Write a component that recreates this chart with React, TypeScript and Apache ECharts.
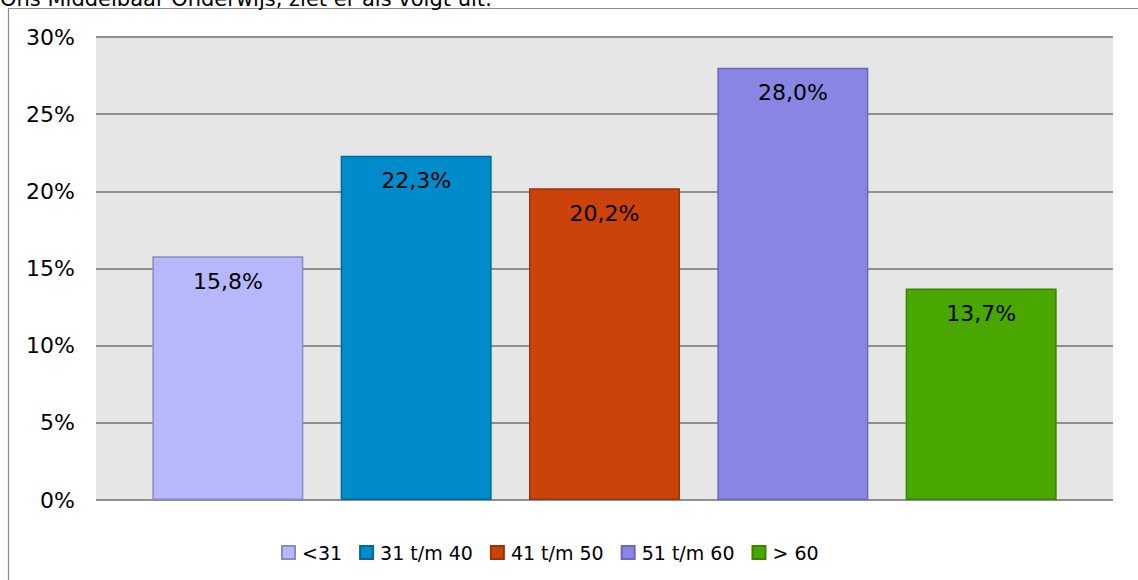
import React, { useEffect, useRef } from "react";
import * as echarts from "echarts";

const categories = ["<31", "31 t/m 40", "41 t/m 50", "51 t/m 60", "> 60"];
const values = [15.8, 22.3, 20.2, 28.0, 13.7];
const fillColors = ["#b7b7fc", "#008bcb", "#cb420a", "#8886e2", "#4aa600"];
const borderColors = ["#8a8ac4", "#00699a", "#9c3408", "#6b69b5", "#3b8400"];
const yTicks = [0, 5, 10, 15, 20, 25, 30];
const titleText = "Ons Middelbaar Onderwijs, ziet er als volgt uit:";

const FONT = "DejaVu Sans, Verdana, sans-serif";

export default function App() {
  const ref = useRef<HTMLDivElement>(null);
  useEffect(() => {
    if (!ref.current) return;
    const chart = echarts.init(ref.current, null, { renderer: "svg" });
    const fmt = (v: number) => v.toFixed(1).replace(".", ",") + "%";
    chart.setOption({
      animation: false,
      backgroundColor: "#ffffff",
      textStyle: { fontFamily: FONT },
      graphic: [
        {
          type: "rect",
          shape: { x: 8.5, y: 8.5, width: 1300, height: 800 },
          style: { fill: "none", stroke: "#8c8c8c", lineWidth: 1.2 },
          silent: true,
          z: -1,
        },
        {
          type: "text",
          left: 0,
          top: -12,
          style: {
            text: titleText,
            fontFamily: FONT,
            fontSize: 21,
            fill: "#000000",
          },
        },
      ],
      grid: {
        left: 96,
        right: 25,
        top: 37,
        bottom: 80,
        show: true,
        backgroundColor: "#e6e6e6",
        borderWidth: 0,
      },
      legend: {
        bottom: 13,
        left: 276,
        itemWidth: 13,
        itemHeight: 13,
        itemGap: 17,
        icon: "rect",
        textStyle: {
          fontFamily: FONT,
          fontSize: 19,
          color: "#000000",
          padding: [0, 0, 0, 2],
        },
        data: categories,
      },
      xAxis: {
        type: "value",
        min: 0.3,
        max: 5.7,
        show: false,
        splitLine: { show: false },
      },
      yAxis: {
        type: "value",
        min: yTicks[0],
        max: yTicks[yTicks.length - 1],
        interval: 5,
        axisLine: { show: false },
        axisTick: { show: false },
        axisLabel: {
          formatter: "{value}%",
          margin: 21,
          color: "#000000",
          fontFamily: FONT,
          fontSize: 22,
        },
        splitLine: { show: true, lineStyle: { color: "#8f8f8f", width: 2 } },
      },
      series: categories.map((name, i) => ({
        type: "bar",
        name,
        data: [[i + 1, values[i]]],
        barWidth: 151,
        barGap: "-100%",
        itemStyle: {
          color: fillColors[i],
          borderColor: borderColors[i],
          borderWidth: 1.5,
        },
        label: {
          show: true,
          position: "insideTop",
          distance: 14,
          formatter: (p: any) => fmt(p.value[1]),
          color: "#000000",
          fontFamily: FONT,
          fontSize: 22,
        },
      })),
    });
    return () => chart.dispose();
  }, []);
  return (
    <div style={{ position: "absolute", left: 0, top: 0, width: 1138, height: 580, overflow: "hidden" }}>
      <div ref={ref} style={{ width: 1138, height: 580 }} />
    </div>
  );
}
